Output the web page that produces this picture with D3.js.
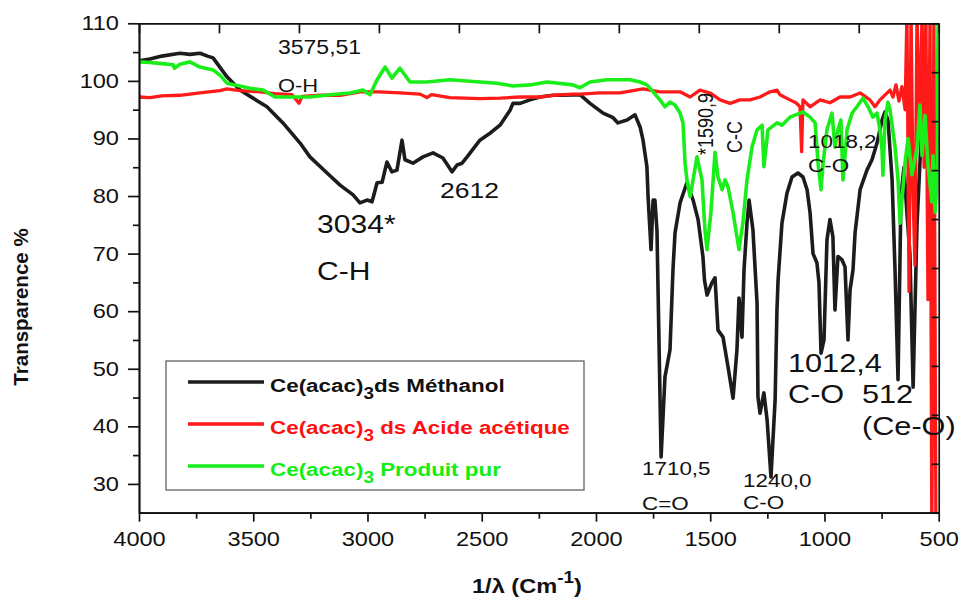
<!DOCTYPE html>
<html>
<head>
<meta charset="utf-8">
<script src="https://cdn.jsdelivr.net/npm/d3@7"></script>
<style>
  body { margin: 0; background: #fff; }
  text { font-family: "Liberation Sans", Arial, sans-serif; fill: #111; }
</style>
</head>
<body>
<script>
// wavenumber (cm-1), transparence (%)
var methanol = [[4000,103.5],[3952,103.8],[3900,104.3],[3821,104.8],[3777,104.6],[3733,104.8],[3700,104.3],[3676,104],
  [3615,100.7],[3558,98.4],[3501,97],[3440,95.5],[3370,92.7],[3295,89.2],[3252,86.8],[3177,84],[3120,81.9],
  [3063,80.2],[3033,78.8],[3002,79.3],[2980,79],[2958,82.3],[2936,82.4],[2915,85.9],[2893,84.2],[2871,84.5],
  [2849,89.7],[2836,86.3],[2801,85.7],[2757,86.8],[2713,87.5],[2670,86.6],[2630,84.2],[2608,85.4],[2586,85.7],
  [2564,86.8],[2508,89.7],[2464,90.9],[2420,92.3],[2376,94.9],[2363,96.1],[2332,96.1],[2289,96.7],[2245,97.2],
  [2188,97.5],[2144,97.5],[2070,97.6],[2026,96.1],[1969,94.4],[1925,93.6],[1904,92.7],[1864,93.2],[1829,94.1],
  [1807,92],[1794,89.7],[1777,85.1],[1772,79.9],[1759,70.7],[1750,79.3],[1742,79.3],[1733,74],[1715,34.7],
  [1698,48.6],[1676,53.3],[1663,67.2],[1654,73.6],[1632,78.8],[1602,82.3],[1575,79.3],[1553,75.9],[1532,69.5],
  [1525,65.4],[1514,62.8],[1493,64.9],[1479,65.8],[1466,56.7],[1444,55.5],[1422,50.3],[1400,44.9],[1383,53.3],
  [1374,62.3],[1361,55.5],[1352,67.2],[1339,75.3],[1330,79.3],[1313,74.1],[1304,67.7],[1295,61.4],[1291,45.1],
  [1282,42.3],[1265,45.8],[1251,41.1],[1234,31.2],[1216,44.6],[1208,60],[1203,65.4],[1186,75.3],[1164,80.5],
  [1142,83.3],[1116,84],[1094,83.3],[1076,81.1],[1063,77.1],[1050,70],[1033,68.4],[1024,65],[1015,52.7],
  [1002,55],[989,72.4],[976,75.9],[963,72.9],[954,60.2],[941,69.5],[923,68.9],[910,67.7],[897,55],[888,63.7],
  [875,67.2],[866,73.6],[844,81.1],[814,84.5],[792,86.3],[770,89.2],[748,93.2],[735,94.6],[722,93.2],[704,82.8],
  [691,67],[678,48.1],[665,80],[652,85],[639,77],[626,70],[612,46.8],[595,75],[577,90],[551,92],[525,88],[503,90]];

var acetique = [[4000,97.2],[3952,97.1],[3900,97.4],[3821,97.5],[3733,97.9],[3646,98.3],[3615,98.6],[3558,98.3],
  [3470,98.1],[3405,97.8],[3330,97.6],[3300,96.1],[3286,97.3],[3208,97.5],[3120,97.5],[3033,98.1],[2950,98.1],
  [2858,97.9],[2770,97.7],[2740,97.1],[2720,97.6],[2639,97.1],[2508,96.9],[2420,97],[2332,97.2],[2245,97.2],
  [2188,97.5],[2101,97.7],[2070,97.7],[1982,97.9],[1895,97.9],[1794,98.6],[1720,98.1],[1632,98.1],[1588,97.2],
  [1545,98.4],[1501,97.9],[1457,96.7],[1413,96.1],[1370,96.7],[1326,96.7],[1282,97.2],[1238,98.1],[1208,98.4],
  [1195,97.6],[1151,96.7],[1125,96.2],[1107,95.5],[1100,87.7],[1094,96.7],[1063,95.5],[1019,96.7],[976,96.2],
  [932,97.2],[888,97.2],[844,97.9],[801,96.7],[779,95.5],[757,96.7],[713,98.4],[700,97.2],[687,99.3],[674,96.5],
  [661,99],[647,95],[639,112],[630,63.4],[621,112],[612,80],[604,68],[595,112],[582,90],[573,112],[564,85],
  [556,112],[547,62],[538,112],[530,20],[521,112],[512,20],[503,20]];

var produitPur = [[4000,103.3],[3952,103.2],[3900,103],[3851,102.8],[3845,102.2],[3821,102.9],[3777,103.3],
  [3733,102.4],[3676,101.9],[3646,101],[3615,99.6],[3580,99.3],[3514,98.7],[3457,98.4],[3405,97.2],[3339,97.2],
  [3252,97.2],[3164,97.6],[3077,97.9],[3020,98.4],[2989,97.6],[2958,100.2],[2923,102.4],[2893,100.5],[2858,102.2],
  [2814,99.8],[2740,99.8],[2639,100.2],[2508,99.8],[2433,99.6],[2363,99.1],[2289,99.3],[2214,99.8],[2101,99.3],
  [2070,98.8],[2026,99.8],[1952,100.2],[1873,100.2],[1851,100.2],[1807,99.8],[1777,99.3],[1750,98.1],[1720,96.7],
  [1698,95.5],[1676,96.3],[1654,95.8],[1632,94.4],[1619,92.7],[1610,85.7],[1602,82.8],[1588,79.9],[1575,82.8],
  [1558,86.8],[1536,82.8],[1523,74.1],[1514,70.7],[1497,77.1],[1479,87.6],[1466,83.3],[1448,81.1],[1435,82.8],
  [1422,81.6],[1400,77.1],[1374,70.7],[1357,75.3],[1339,82.8],[1317,88.5],[1295,91.5],[1273,92.3],[1265,85.1],
  [1247,91.5],[1208,92.7],[1186,92.3],[1151,93.7],[1107,94.4],[1094,94.6],[1063,93.7],[1041,92.7],[1028,85.7],
  [1015,81.1],[1006,85.7],[989,91.5],[967,94.4],[954,88.5],[941,91.5],[928,93.2],[919,82.8],[901,91.5],[879,94.4],
  [858,95.5],[831,97],[809,95.5],[788,93.7],[770,94.4],[757,91.5],[748,88],[744,83.6],[735,93.2],[722,96.3],
  [713,95],[691,88.5],[678,82.8],[669,75.3],[647,85.9],[634,90],[617,83.7],[595,88.4],[582,95.8],[573,87],
  [560,94],[547,85.4],[530,79],[525,87],[516,77.2],[507,82],[503,110],[501,100]];

var xTicks = [4000,3500,3000,2500,2000,1500,1000,500];
var yTicks = [30,40,50,60,70,80,90,100,110];
var seriesNames = ["Méthanol", "Acide acétique", "Produit pur"];
var seriesColors = ["#1c1c1c", "#ff1a1a", "#1aee1a"];

var width = 959, height = 597;
var stretch = 1.18;   // the original text is a bit wide

var svg = d3.select("body").append("svg")
    .attr("width", width)
    .attr("height", height);

var x = d3.scaleLinear().domain([4000, 500]).range([139, 938.7]);
var y = d3.scaleLinear().domain([25, 110]).range([512.7, 23.3]);

svg.append("clipPath").attr("id", "plot")
  .append("rect")
    .attr("x", x(4000)).attr("y", y(110))
    .attr("width", x(500) - x(4000)).attr("height", y(25) - y(110));

// curves: black, then red, then green on top
var line = d3.line().x(function(d) { return x(d[0]); }).y(function(d) { return y(d[1]); });
var g = svg.append("g").attr("clip-path", "url(#plot)");
[methanol, acetique, produitPur].forEach(function(data, i) {
    g.append("path")
        .attr("d", line(data))
        .attr("fill", "none")
        .attr("stroke", seriesColors[i])
        .attr("stroke-width", i == 1 ? 3.3 : 3.6)
        .attr("stroke-linejoin", "round");
});

// axes
var xAxis = svg.append("g")
    .attr("transform", "translate(0," + y(25) + ")")
    .call(d3.axisBottom(x).tickValues(xTicks).tickFormat(d3.format("d")).tickSize(9).tickPadding(10).tickSizeOuter(0));
svg.append("g")
    .attr("transform", "translate(0," + y(25) + ")")
    .call(d3.axisBottom(x).tickValues(xTicks.slice(1).map(function(v) { return v + 250; })).tickSize(6).tickFormat("").tickSizeOuter(0));
var yAxis = svg.append("g")
    .attr("transform", "translate(" + x(4000) + ",0)")
    .call(d3.axisLeft(y).tickValues(yTicks).tickFormat(d3.format("d")).tickSize(11).tickSizeOuter(0));
svg.append("g")
    .attr("transform", "translate(" + x(4000) + ",0)")
    .call(d3.axisLeft(y).tickValues(d3.range(35, 110, 10)).tickSize(6).tickFormat("").tickSizeOuter(0));
svg.append("g")
    .attr("transform", "translate(0," + y(110) + ")")
    .call(d3.axisBottom(x).tickValues(d3.range(0, 11).map(function(k) { return 4000 - 350 * k; })).tickSize(10).tickFormat("").tickSizeOuter(0));
svg.append("g")
    .attr("transform", "translate(" + x(500) + ",0)")
    .call(d3.axisLeft(y).tickValues(d3.range(0, 11).map(function(k) { return 25 + 8.5 * k; })).tickSize(7).tickFormat("").tickSizeOuter(0));

svg.selectAll(".domain, .tick line").attr("stroke", "#111").attr("stroke-width", 1.7);
svg.selectAll(".tick text").style("font-size", "20px").style("font-family", "Liberation Sans, Arial, sans-serif").attr("fill", "#111");
xAxis.selectAll(".tick text").attr("transform", "scale(" + stretch + ",1)");
yAxis.selectAll(".tick text")
    .attr("x", 0)
    .attr("transform", "translate(-20,0) scale(" + stretch + ",1)");

// axis titles
svg.append("text")
    .attr("transform", "translate(28,307) rotate(-90)")
    .attr("text-anchor", "middle")
    .style("font-size", "20.5px").style("font-weight", "bold")
    .text("Transparence %");
var xt = svg.append("text")
    .attr("transform", "translate(472,593) scale(" + stretch + ",1)")
    .style("font-size", "20px").style("font-weight", "bold");
xt.append("tspan").text("1/λ (Cm");
xt.append("tspan").attr("dy", -10).style("font-size", "16px").text("-1");
xt.append("tspan").attr("dy", 10).text(")");

// annotations
function note(px, py, str, size, rot) {
    svg.append("text")
        .attr("transform", "translate(" + px + "," + py + ") scale(" + stretch + ",1)" + (rot ? " rotate(-90)" : ""))
        .style("font-size", size + "px")
        .text(str);
}
note(278, 54, "3575,51", 19.5);
note(278, 92, "O-H", 18.6);
note(317, 233, "3034*", 25.5);
note(317, 280, "C-H", 25.5);
note(440, 198, "2612", 22.5);
note(808, 148, "1018,2", 19);
note(808, 172, "C-O", 19);
note(788, 372, "1012,4", 26);
note(788, 403, "C-O", 26);
note(862, 403, "512", 26);
note(862, 435, "(Ce-O)", 26);
note(642, 475, "1710,5", 19);
note(642, 510, "C=O", 19);
note(743, 487, "1240,0", 19);
note(743, 509, "C-O", 19);
note(713, 155, "*1590,9", 18, true);
note(742, 153, "C-C", 18, true);

// legend
svg.append("rect")
    .attr("x", 166).attr("y", 361).attr("width", 418).attr("height", 129)
    .attr("fill", "none").attr("stroke", "#555").attr("stroke-width", 1.2);
var legendText = [["Ce(acac)", "3", "ds Méthanol"], ["Ce(acac)", "3", " ds Acide acétique"], ["Ce(acac)", "3", " Produit pur"]];
var legendTextColor = ["#111", "#ff1010", "#12ee12"];
legendText.forEach(function(t, i) {
    var ly = 382 + i * 42;
    svg.append("line")
        .attr("x1", 188).attr("x2", 264).attr("y1", ly).attr("y2", ly)
        .attr("stroke", seriesColors[i]).attr("stroke-width", 3.6);
    var lt = svg.append("text")
        .attr("transform", "translate(270," + (ly + 10) + ") scale(" + stretch + ",1)")
        .style("font-size", "19px").style("font-weight", "bold")
        .style("fill", legendTextColor[i])
        .attr("xml:space", "preserve");
    lt.append("tspan").text(t[0]);
    lt.append("tspan").attr("dy", 7).style("font-size", "16px").text(t[1]);
    lt.append("tspan").attr("dy", -7).text(t[2]);
});
</script>
</body>
</html>
